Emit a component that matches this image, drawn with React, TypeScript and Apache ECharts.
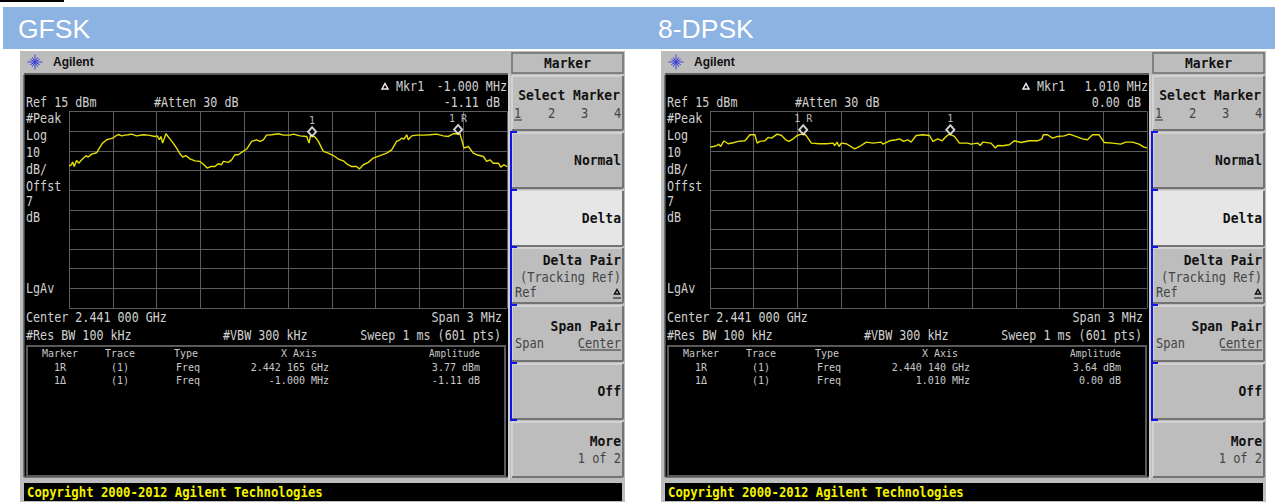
import React, { useEffect, useRef } from "react";
import * as echarts from "echarts";

const REF_DBM = 15;

// Frequency offset from centre (kHz) and level (dBm)
const gfskFreq = [-1500,-1486,-1475,-1464,-1448,-1434,-1413,-1384,-1368,-1345,-1311,-1292,-1270,-1242,-1219,-1201,-1185,-1162,-1139,-1117,-1094,-1071,-1037,-991,-957,-911,-895,-881,-870,-859,-836,-813,-786,-763,-740,-722,-699,-672,-637,-603,-576,-553,-530,-500,-478,-455,-443,-409,-386,-363,-341,-318,-283,-249,-215,-192,-169,-147,-112,-67,-32,13,37,82,128,144,155,185,208,242,276,311,345,379,402,436,470,489,516,550,584,630,676,710,744,767,778,794,813,824,847,881,927,973,1018,1064,1098,1132,1178,1196,1205,1235,1269,1292,1338,1361,1383,1406,1441,1457,1479,1500];
const gfskDbm = [-12.6,-12.3,-10.75,-13,-9.9,-11.3,-9.6,-7.5,-8.2,-6.7,-6,-3.6,-1.1,0.6,1.1,1.45,2.3,3.3,2.6,3,3.15,3.5,2.6,3.15,3,2.3,2.6,0.6,2.3,-1.1,3.65,1.45,-1.1,-3.6,-6.5,-8.2,-7.4,-9.1,-10.1,-10.4,-12.1,-13.8,-13,-13,-11.6,-12.1,-10.4,-10.9,-9.6,-7,-7,-5.8,-4.1,-0.2,0.6,-0.2,0.6,3,3.15,3.65,3,3,3.5,2.6,2.3,-1.1,3.15,2,-0.2,-5.3,-6.2,-7.4,-9.2,-10.1,-11.6,-13,-13,-14.3,-12.1,-10.9,-8.7,-7.5,-6.2,-4.5,-0.2,0.6,1.45,1,3.15,0.6,2.6,3,3,3.15,3.5,2.6,2.3,3.65,3.65,-1.1,-3.6,-2.8,-6.2,-7,-7.9,-10.4,-9.6,-11.3,-11.3,-13.3,-12.1,-13];
const dpskFreq = [-1500,-1477,-1454,-1441,-1427,-1404,-1375,-1340,-1306,-1260,-1226,-1192,-1176,-1158,-1123,-1101,-1078,-1039,-1009,-980,-959,-929,-902,-872,-843,-804,-747,-701,-655,-644,-628,-614,-598,-564,-507,-473,-427,-381,-324,-313,-267,-222,-199,-171,-142,-119,-85,-39,7,30,64,94,121,144,178,212,269,292,338,356,372,429,459,475,509,555,589,635,692,749,779,788,817,852,886,932,966,1011,1057,1091,1126,1171,1206,1263,1320,1354,1400,1445,1480,1500];
const dpskDbm = [-3.1,-2.8,-2.4,-1.6,-2.8,0,-1.4,-0.9,-0.2,0.1,3.15,3.15,-1.1,-0.2,0.1,1.8,1.45,3.5,2.8,0.6,-0.2,1.1,2.8,3.5,3.15,-1.1,-1.4,-1.4,-1.1,-2.4,-0.6,-2.8,-1.1,-1.4,-4,-2.8,-0.6,-1.1,-0.6,-1.6,0.1,0.6,1.1,-0.2,0.6,-0.6,2.8,3.15,2.8,-0.2,1.1,0.1,2.3,3.5,2.3,-1.1,-1.1,-1.6,-1.1,-2.3,-0.6,-1.1,-3.6,-2.3,-2.4,-1.9,0.1,-0.75,0.1,0.1,1.1,3.15,3.15,1.45,2.3,2.6,3.5,2.3,1.1,0.6,3.15,3.15,-0.75,-1.1,-1.6,-0.6,-0.6,-1.6,-3.1,-3.5];

const gfskMarkers = [
  { name: "1", freq: 165, dbm: 2.66 },
  { name: "1R", freq: 1165, dbm: 3.77 },
];
const dpskMarkers = [
  { name: "1R", freq: -860, dbm: 3.64 },
  { name: "1", freq: 150, dbm: 3.64 },
];

const gfskLabels = {
  title: "GFSK", mkrFreq: "-1.000 MHz", mkrAmp: "-1.11 dB",
  refX: "2.442 165 GHz", deltaX: "-1.000 MHz", refAmp: "3.77 dBm", deltaAmp: "-1.11 dB",
};
const dpskLabels = {
  title: "8-DPSK", mkrFreq: "1.010 MHz", mkrAmp: "0.00 dB",
  refX: "2.440 140 GHz", deltaX: "1.010 MHz", refAmp: "3.64 dBm", deltaAmp: "0.00 dB",
};

const MONO = "'DejaVu Sans Mono', monospace";
const SCREEN_TEXT = "#d0d0d0";
const KEY_GRAY = "#bdbdbd";

function txt(x: number, y: number, text: string, o: any = {}) {
  return {
    type: "text", x, y, z: 20, silent: true, scaleY: o.scaleY ?? 1.22,
    style: {
      text, x: 0, y: 0,
      fill: o.fill ?? SCREEN_TEXT,
      font: `${o.weight ?? "normal"} ${o.size ?? 11.7}px ${o.family ?? MONO}`,
      textAlign: o.align ?? "left",
      textVerticalAlign: "middle",
    },
  };
}
const rect = (x: number, y: number, w: number, h: number, fill: string, z = 1, extra: any = {}) => ({
  type: "rect", z, silent: true, shape: { x, y, width: w, height: h }, style: { fill, ...extra },
});
const line = (x1: number, y1: number, x2: number, y2: number, stroke: string, lineWidth = 1, z = 3) => ({
  type: "line", z, silent: true, shape: { x1, y1, x2, y2 }, style: { stroke, lineWidth },
});
const tri = (cx: number, cy: number, r: number, fill: string, z = 20) => ({
  type: "polygon", z, silent: true,
  shape: { points: [[cx, cy - r], [cx + r, cy + r * 0.8], [cx - r, cy + r * 0.8]] },
  style: { fill: "none", stroke: fill, lineWidth: 1.5 },
});

function softKey(ox: number, y: number, h: number, fill = KEY_GRAY) {
  const x = ox + 512, w = 111;
  return [
    rect(x, y, w, h, fill, 2),
    line(x, y, x + w, y, "#e8e8e8", 1),
    line(x, y, x, y + h, "#e8e8e8", 1),
    line(x, y + h, x + w, y + h, "#737373", 2),
    line(x + w, y, x + w, y + h, "#737373", 2),
  ];
}

function panel(ox: number, l: typeof gfskLabels) {
  const els: any[] = [];
  const K = (x: number, y: number, t: string, o: any = {}) =>
    els.push(txt(ox + x, y, t, { fill: "#111", weight: "bold", size: 13, scaleY: 1.12, ...o }));
  const S = (x: number, y: number, t: string, o: any = {}) => els.push(txt(ox + x, y, t, o));
  const T = (x: number, y: number, t: string, o: any = {}) =>
    els.push(txt(ox + x, y, t, { size: 10, scaleY: 1.12, fill: "#c8c8c8", ...o }));

  // instrument body
  els.push(rect(ox + 20, 51, 605, 451, KEY_GRAY, 0));
  els.push(rect(ox + 24, 75, 484, 402, "#000", 1));
  els.push(line(ox + 24, 74, ox + 508, 74, "#5c5c5c", 2));
  els.push(line(ox + 24, 477, ox + 508, 477, "#5c5c5c", 1.5));
  els.push(line(ox + 24, 75, ox + 24, 477, "#5c5c5c", 1.5));
  els.push(rect(ox + 27, 346, 478, 130, "#000", 2, { stroke: "#5a5a5a", lineWidth: 2 }));
  els.push(line(ox + 509, 75, ox + 509, 480, "#e0e0e0", 1));
  els.push(rect(ox + 24, 483, 598, 18, "#000", 2));

  // logo
  for (let i = 0; i < 12; i++) {
    const a = (i * Math.PI) / 6;
    const r = i % 3 === 0 ? 7.5 : 5.5;
    els.push(line(ox + 35, 62, ox + 35 + r * Math.cos(a), 62 + r * Math.sin(a), "#3a3fd8", 1));
  }
  els.push(txt(ox + 53, 62, "Agilent", { family: "'Liberation Sans', sans-serif", weight: "bold", size: 12, fill: "#111", scaleY: 1.05 }));

  // marker read-out
  els.push(tri(ox + 385, 86.5, 3, "#eee"));
  S(396, 86, "Mkr1");
  S(507, 86, l.mkrFreq, { align: "right" });
  S(500, 102.5, l.mkrAmp, { align: "right" });

  S(26, 102.5, "Ref 15 dBm");
  S(154, 102.5, "#Atten 30 dB");
  S(26, 118, "#Peak");
  S(26, 135, "Log");
  S(26, 152, "10");
  S(26, 169, "dB/");
  S(26, 186, "Offst");
  S(26, 201, "7");
  S(26, 217, "dB");
  S(26, 288, "LgAv");
  S(26, 317.5, "Center 2.441 000 GHz");
  S(502, 317.5, "Span 3 MHz", { align: "right" });
  S(26, 335, "#Res BW 100 kHz");
  S(223, 335, "#VBW 300 kHz");
  S(501, 335, "Sweep 1 ms (601 pts)", { align: "right" });

  // marker table
  T(42, 353.5, "Marker");
  T(105, 353.5, "Trace");
  T(174, 353.5, "Type");
  T(281, 353.5, "X Axis");
  T(480, 353.5, "Amplitude", { align: "right", size: 9.4 });
  T(54, 367, "1R");
  T(111, 367, "(1)");
  T(176, 367, "Freq");
  T(329, 367, l.refX, { align: "right" });
  T(480, 367, l.refAmp, { align: "right" });
  T(54, 380, "1Δ");
  T(111, 380, "(1)");
  T(176, 380, "Freq");
  T(329, 380, l.deltaX, { align: "right" });
  T(480, 380, l.deltaAmp, { align: "right" });

  // soft keys
  els.push(rect(ox + 512, 53, 111, 20, KEY_GRAY, 2, { stroke: "#6e6e6e", lineWidth: 1.5 }));
  K(567.5, 62.5, "Marker", { align: "center" });
  els.push(...softKey(ox, 76, 54), ...softKey(ox, 133, 55), ...softKey(ox, 191, 55, "#e6e6e6"));
  els.push(...softKey(ox, 248, 55), ...softKey(ox, 306, 55), ...softKey(ox, 364, 55), ...softKey(ox, 422, 55));
  K(620, 95, "Select Marker", { align: "right" });
  const reg = { weight: "normal", fill: "#444", size: 12, scaleY: 1.18 };
  K(514, 113, "1", reg); K(548, 113, "2", reg); K(581, 113, "3", reg); K(614, 113, "4", reg);
  els.push(line(ox + 514, 120, ox + 522, 120, "#333", 1, 20));
  K(621, 160, "Normal", { align: "right" });
  K(621, 218, "Delta", { align: "right" });
  K(621, 260, "Delta Pair", { align: "right" });
  K(621, 277, "(Tracking Ref)", { ...reg, align: "right" });
  K(515, 292, "Ref", reg);
  els.push(tri(ox + 617, 292, 2.5, "#111"));
  els.push(line(ox + 613, 298, ox + 621, 298, "#111", 1, 20));
  K(621, 326, "Span Pair", { align: "right" });
  K(515, 343, "Span", reg);
  K(621, 343, "Center", { ...reg, align: "right" });
  els.push(line(ox + 580, 350, ox + 621, 350, "#333", 1, 20));
  K(621, 391, "Off", { align: "right" });
  K(621, 441, "More", { align: "right" });
  K(621, 458, "1 of 2", { ...reg, align: "right" });

  // blue bracket
  els.push(line(ox + 511, 132, ox + 511, 421, "#1414e6", 2, 4));
  for (const y of [132, 190, 247, 305, 363, 420]) {
    els.push(line(ox + 510, y, ox + 517, y, "#1414e6", 2, 4));
  }

  // copyright
  els.push(txt(ox + 27, 492, "Copyright 2000-2012 Agilent Technologies", { fill: "#f2f200", weight: "bold", size: 12.3, scaleY: 1.1 }));
  return els;
}

const traceData = (f: number[], d: number[]) => f.map((x, i) => [x, d[i] - REF_DBM]);
const markerData = (m: typeof gfskMarkers) => m.map((p) => ({ value: [p.freq, p.dbm - REF_DBM], name: p.name }));

function axes(index: number) {
  const split = { show: true, lineStyle: { color: "#5c5c5c", width: 1, type: "solid" as const } };
  return {
    x: {
      type: "value", gridIndex: index, min: -1500, max: 1500, interval: 300, z: 5,
      axisLine: { show: false }, axisTick: { show: false }, axisLabel: { show: false }, splitLine: split,
    },
    y: {
      type: "value", gridIndex: index, min: -100, max: 0, interval: 10, z: 5,
      axisLine: { show: false }, axisTick: { show: false }, axisLabel: { show: false }, splitLine: split,
    },
  };
}

function traceSeries(i: number, f: number[], d: number[], m: typeof gfskMarkers) {
  return [
    {
      type: "line", xAxisIndex: i, yAxisIndex: i, z: 6, showSymbol: false, silent: true,
      lineStyle: { color: "#e6e000", width: 1.4 }, data: traceData(f, d),
    },
    {
      type: "scatter", xAxisIndex: i, yAxisIndex: i, z: 7, silent: true,
      symbol: "diamond", symbolSize: [8, 9], symbolOffset: [0, -4],
      itemStyle: { color: "#000", borderColor: "#ffffff", borderWidth: 2 },
      label: {
        show: true, position: "top", distance: 1, color: "#e8e8e8",
        fontFamily: MONO, fontSize: 10, formatter: (p: any) => p.name.split("").join(" "),
      },
      data: markerData(m),
    },
  ];
}

export default function App() {
  const ref = useRef<HTMLDivElement>(null);
  useEffect(() => {
    document.body.style.margin = "0";
    const chart = echarts.init(ref.current!, undefined, { renderer: "svg" });
    const a = axes(0), b = axes(1);
    const sans = "'Liberation Sans', Arial, sans-serif";
    chart.setOption({
      animation: false,
      backgroundColor: "#fff",
      grid: [
        { left: 69, top: 111.5, width: 438, height: 196.5 },
        { left: 710, top: 111.5, width: 437, height: 196.5 },
      ],
      xAxis: [a.x, b.x],
      yAxis: [a.y, b.y],
      series: [
        ...traceSeries(0, gfskFreq, gfskDbm, gfskMarkers),
        ...traceSeries(1, dpskFreq, dpskDbm, dpskMarkers),
      ],
      graphic: {
        elements: [
          rect(0, 0, 64, 2, "#000", 0),
          rect(3, 7, 1272, 42, "#8db3e2", 0),
          txt(18, 29, gfskLabels.title, { fill: "#fff", family: sans, size: 26.5, scaleY: 1 }),
          txt(658, 29, dpskLabels.title, { fill: "#fff", family: sans, size: 26.5, scaleY: 1 }),
          ...panel(0, gfskLabels),
          ...panel(641, dpskLabels),
        ],
      },
    });
    return () => chart.dispose();
  }, []);
  return <div ref={ref} style={{ position: "absolute", left: 0, top: 0, width: 1275, height: 502 }} />;
}
